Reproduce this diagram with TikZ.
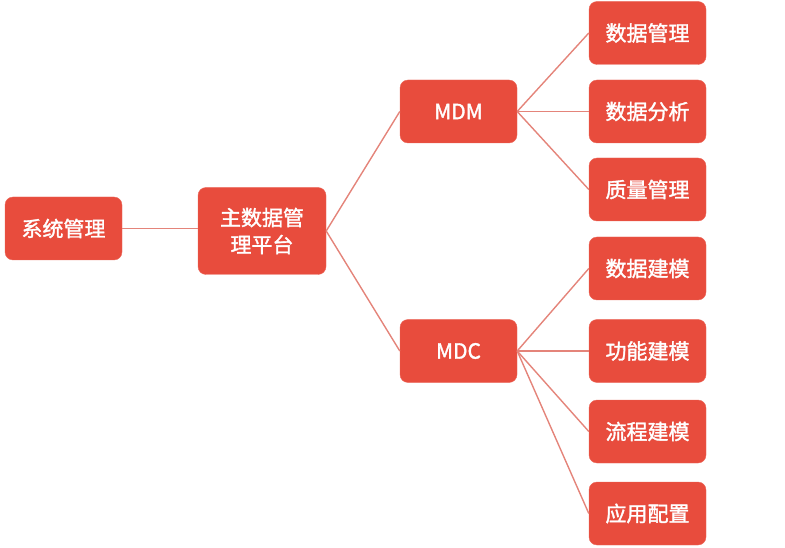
\documentclass[tikz,border=0pt]{standalone}
\usepackage{fontspec}
\setmainfont{Noto Sans CJK SC}[FakeBold=1.6]
\usepackage{tikz}
\usetikzlibrary{positioning}

\definecolor{boxred}{HTML}{E84C3D}
\definecolor{linkred}{HTML}{E4847A}

\tikzset{
  box/.style={fill=boxred, draw=boxred!85!white, rounded corners=8pt,
    minimum width=117pt, minimum height=63pt, inner sep=2pt,
    text=white, font=\fontsize{21}{27}\selectfont, align=center},
  bigbox/.style={box, minimum width=128pt, minimum height=87pt},
  link/.style={draw=linkred, line width=1.4pt}
}

\begin{document}
\begin{tikzpicture}[
  % pixel-like units, y down
  x={(1pt,0pt)},
  y={(0pt,-1pt)}
]
  \useasboundingbox (0,0) rectangle (785,548);

  % left part
  \node[box] (sys) at (63.5,228.5) {系统管理};
  \node[bigbox] (plat) at (262,231) {主数据管\\理平台};

  % middle
  \node[box] (mdm) at (458.5,111.5) {MDM};
  \node[box] (mdc) at (458.5,351) {MDC};

  % right column
  \node[box] (dm) at (647.5,33) {数据管理};
  \node[box] (da) at (647.5,111.5) {数据分析};
  \node[box] (qm) at (647.5,189.5) {质量管理};
  \node[box] (dmod) at (647.5,268.5) {数据建模};
  \node[box] (fmod) at (647.5,351) {功能建模};
  \node[box] (pmod) at (647.5,431.5) {流程建模};
  \node[box] (cfg) at (647.5,513.5) {应用配置};

  % links
  \draw[link] (sys.east) -- (plat.west |- sys.east);
  \draw[link] (plat.east) -- (mdm.west);
  \draw[link] (plat.east) -- (mdc.west);
  \draw[link] (mdm.east) -- (dm.west);
  \draw[link] (mdm.east) -- (da.west);
  \draw[link] (mdm.east) -- (qm.west);
  \draw[link] (mdc.east) -- (dmod.west);
  \draw[link] (mdc.east) -- (fmod.west);
  \draw[link] (mdc.east) -- (pmod.west);
  \draw[link] (mdc.east) -- (cfg.west);
\end{tikzpicture}
\end{document}
